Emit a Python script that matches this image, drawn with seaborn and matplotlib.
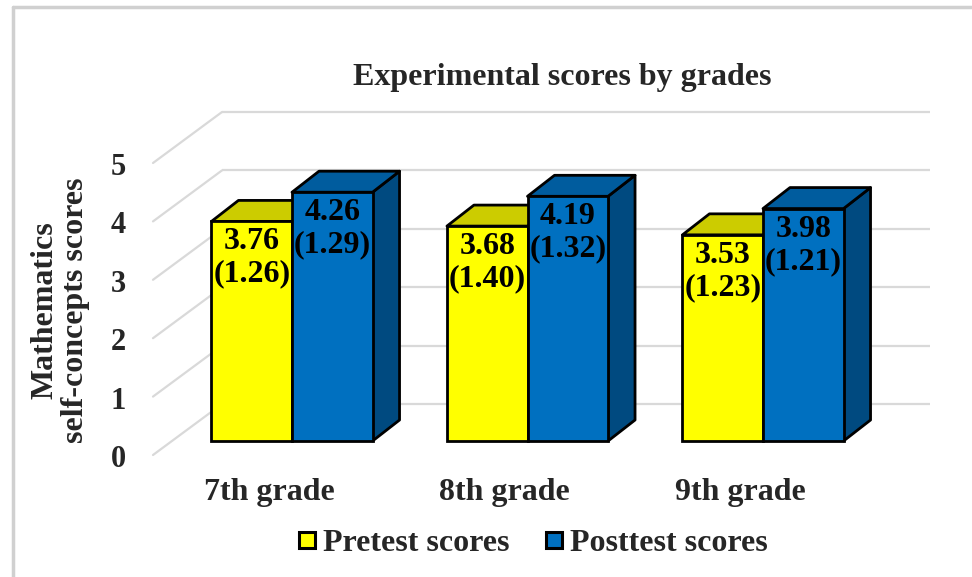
import numpy as np
import pandas as pd
import matplotlib
matplotlib.use("Agg")
import matplotlib.pyplot as plt
from matplotlib.patches import Polygon
from matplotlib.lines import Line2D
import seaborn as sns

# ---------------- data ----------------
grades = ["7th grade", "8th grade", "9th grade"]
series = ["Pretest scores", "Posttest scores"]
pre_mean = [3.76, 3.68, 3.53]
post_mean = [4.26, 4.19, 3.98]
pre_sd = [1.26, 1.40, 1.23]
post_sd = [1.29, 1.32, 1.21]
yticks = [0, 1, 2, 3, 4, 5]
title = "Experimental scores by grades"
ylabel = "Mathematics\nself-concepts scores"

df = pd.DataFrame({
    "grade": grades * 2,
    "test": [series[0]] * 3 + [series[1]] * 3,
    "score": pre_mean + post_mean,
    "sd": pre_sd + post_sd,
})

# ---------------- style ----------------
sns.set_style("white")
plt.rcParams["font.family"] = ["Liberation Serif", "DejaVu Serif"]
plt.rcParams["font.weight"] = "bold"

YEL, BLU = "#FFFF00", "#0070C0"
YEL_TOP, YEL_SIDE = "#CCCC00", "#A8A800"
BLU_TOP, BLU_SIDE = "#005C9E", "#004A80"
GRID = "#D9D9D9"

W, H = 972, 577
fig = plt.figure(figsize=(W / 100, H / 100), dpi=100)

# pixel geometry of the axes
X0PX, XUNIT = 292.0, 235.5     # category 0 centre, px per category
Y0PX, YUNIT = 441.0, 58.4      # value 0 (bar front plane), px per unit
L, R, B, T = 140, 940, 470, 100
ax = fig.add_axes([L / W, (H - B) / H, (R - L) / W, (B - T) / H])

def dxu(px):
    return px / XUNIT

def dyu(px):
    return px / YUNIT

sns.barplot(data=df, x="grade", y="score", hue="test", palette=[YEL, BLU],
            width=0.684, edgecolor="black", linewidth=2.0, ax=ax,
            legend=False, errorbar=None, saturation=1)

ax.set_xlim((L - X0PX) / XUNIT, (R - X0PX) / XUNIT)
ax.set_ylim((Y0PX - B) / YUNIT, (Y0PX - T) / YUNIT)

# ---------------- back wall grid + floor diagonals ----------------
back_dy = 37                   # back wall offset above bar front plane (px)
wall_x0 = dxu(222 - X0PX)
wall_x1 = dxu(930 - X0PX)
for v in yticks:
    yb = v + dyu(back_dy)
    ax.plot([wall_x0, wall_x1], [yb, yb], color=GRID, lw=1.6, zorder=1,
            solid_capstyle="butt")
    ax.plot([wall_x0, wall_x0 + dxu(-69)], [yb, yb - dyu(51)], color=GRID,
            lw=1.6, zorder=1)

# ---------------- 3D faces ----------------
ddx, ddy = dxu(27), dyu(21)
bars = list(ax.patches)
for i, p in enumerate(bars):
    is_pre = i < 3
    x0 = p.get_x()
    x1 = x0 + p.get_width()
    h = p.get_height()
    ztop = 2.8 if is_pre else 4.8
    p.set_zorder(3 if is_pre else 5)
    top = Polygon([(x0, h), (x1, h), (x1 + ddx, h + ddy), (x0 + ddx, h + ddy)],
                  closed=True, facecolor=YEL_TOP if is_pre else BLU_TOP,
                  edgecolor="black", lw=2.0, zorder=ztop, joinstyle="round")
    side = Polygon([(x1, 0), (x1, h), (x1 + ddx, h + ddy), (x1 + ddx, ddy)],
                   closed=True, facecolor=YEL_SIDE if is_pre else BLU_SIDE,
                   edgecolor="black", lw=2.0, zorder=ztop, joinstyle="round")
    ax.add_patch(side)
    ax.add_patch(top)

# value labels
vals = pre_mean + post_mean
sds = pre_sd + post_sd
for i, p in enumerate(bars):
    cx = p.get_x() + p.get_width() / 2
    h = p.get_height()
    ax.text(cx, h - dyu(6), f"{vals[i]:.2f}\n({sds[i]:.2f})", ha="center",
            va="top", fontsize=23, fontweight="bold", linespacing=1.15,
            zorder=10, color="black")

# ---------------- axes cosmetics ----------------
for s in ax.spines.values():
    s.set_visible(False)
ax.set_xlabel("")
ax.set_ylabel("")
ax.set_xticks(np.arange(len(grades)) + dxu(-23), labels=grades)
ax.set_yticks(np.array(yticks) + dyu(-15), labels=[str(v) for v in yticks])
ax.tick_params(axis="x", length=0, pad=6, labelsize=23)
ax.tick_params(axis="y", length=0, pad=10, labelsize=22)
for lab in ax.get_xticklabels() + ax.get_yticklabels():
    lab.set_fontweight("bold")

fig.text(60 / W, 1 - 310 / H, ylabel, rotation=90, ha="center", va="center",
         fontsize=23, fontweight="bold", linespacing=1.05,
         multialignment="center")
fig.text(562 / W, 1 - 78 / H, title, ha="center", va="center",
         fontsize=23, fontweight="bold")

handles = [Line2D([], [], marker="s", linestyle="", markerfacecolor=c,
                  markeredgecolor="black", markersize=11, markeredgewidth=2.2)
           for c in (YEL, BLU)]
fig.legend(handles, series, loc="center", bbox_to_anchor=(531 / W, 1 - 543 / H),
           ncol=2, frameon=False, handletextpad=0.1, columnspacing=1.0,
           handlelength=0.8, prop={"size": 23, "weight": "bold"})

# chart-area border (top and left edges)
fig.add_artist(Line2D([13 / W, 13 / W], [0, 1 - 7 / H], color="#D0D0D0",
                      lw=2.5, transform=fig.transFigure))
fig.add_artist(Line2D([13 / W, 1], [1 - 7 / H, 1 - 7 / H], color="#D0D0D0",
                      lw=2.5, transform=fig.transFigure))

fig.savefig("out.png", dpi=100, facecolor="white")
